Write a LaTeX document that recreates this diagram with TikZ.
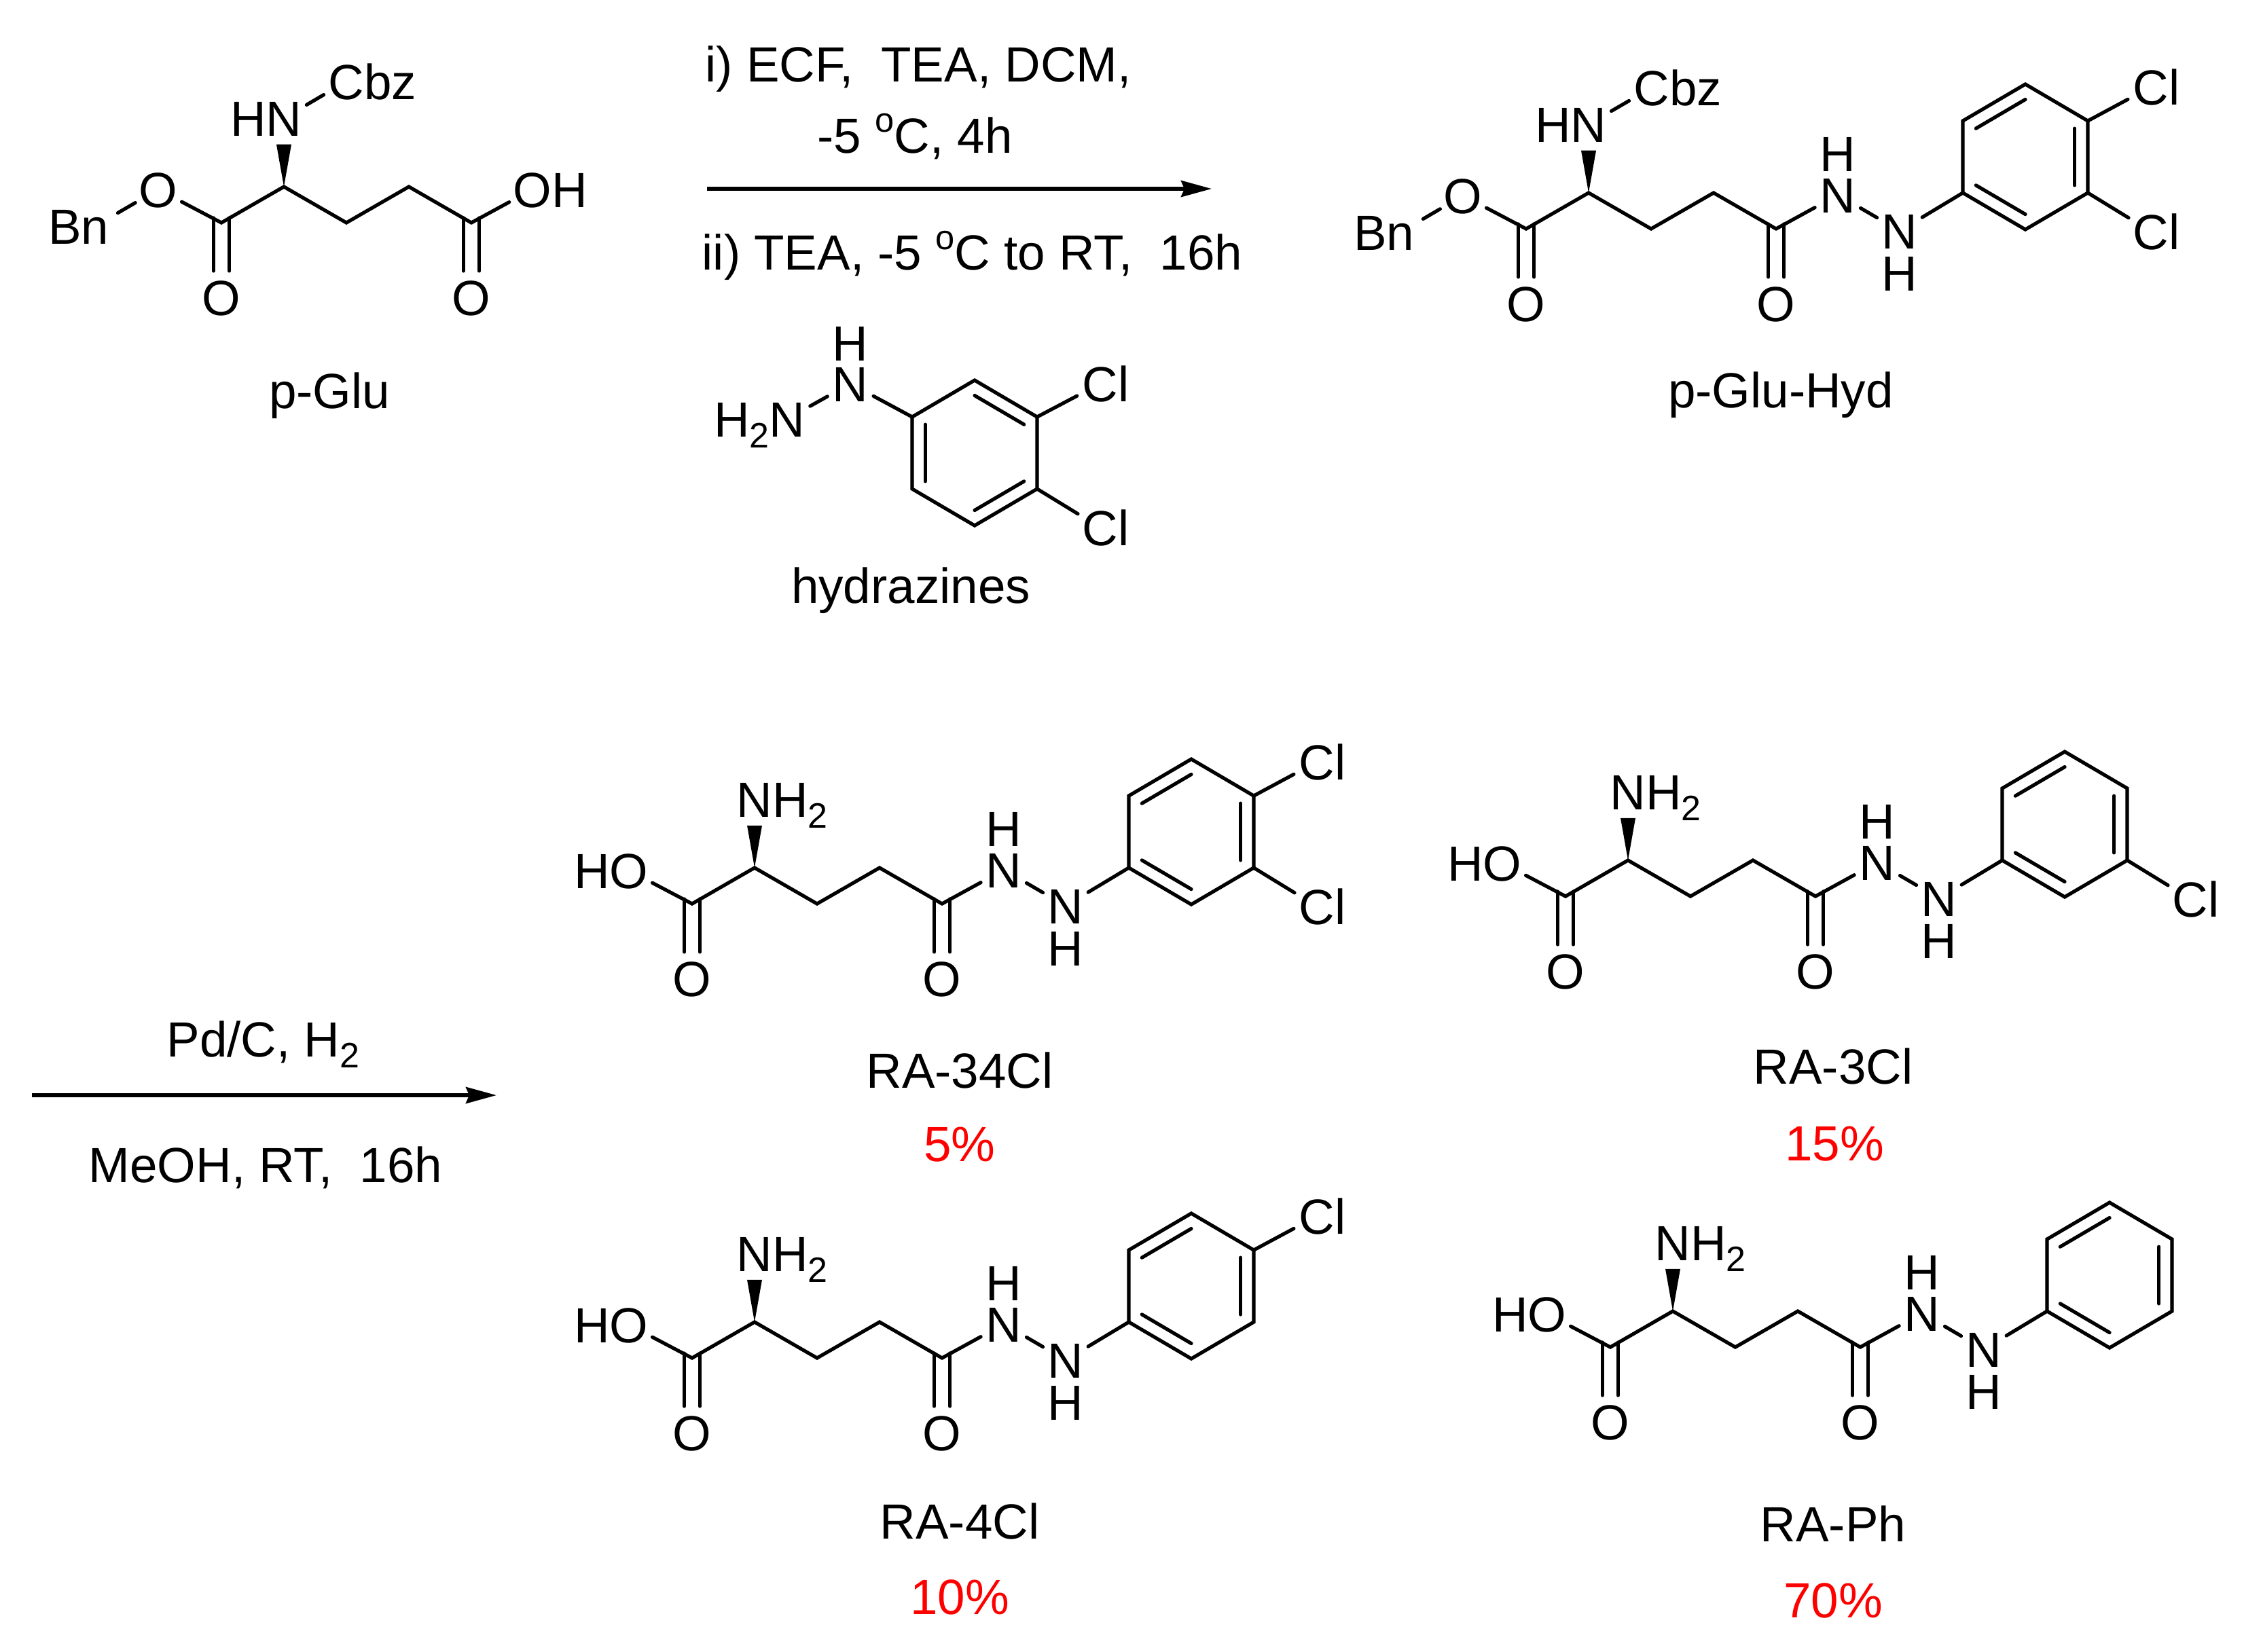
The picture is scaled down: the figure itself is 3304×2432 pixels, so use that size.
\documentclass[tikz,border=0pt]{standalone}
\usepackage{fontspec}
\setmainfont{Liberation Sans}
\usetikzlibrary{calc,arrows.meta}
\newcommand\subt{\raisebox{-0.16cm}{\fontsize{14.8}{16}\selectfont 2}}
\newcommand\supo{\raisebox{0.30cm}{\fontsize{14.4}{16}\selectfont o}}
\tikzset{
  chemfont/.style={font=\fontsize{20.7}{24}\selectfont},
  atom/.style={chemfont,circle,inner sep=0pt,minimum size=0.76cm,text height=0.52cm,text depth=0pt},
  txt/.style={chemfont,inner sep=0pt,anchor=base},
  txtl/.style={chemfont,inner sep=0pt,anchor=base west},
  yieldtxt/.style={txt,text=red},
  bond/.style={line width=0.052cm,line cap=round,line join=miter},
  rxn/.style={line width=0.054cm,-{Stealth[length=0.45cm,width=0.24cm,inset=0.05cm]}}
}
% chain: prefix, x, y (reference pixels, y down), text of ester O, text of N
\newcommand\glumol[5]{%
  \begin{scope}[shift={(#2,-#3)}]
    \coordinate (#1a) at (0,0);
    \coordinate (#1c1) at (-92,-53);
    \coordinate (#1c3) at (92,-53);
    \coordinate (#1c4) at (184,0);
    \coordinate (#1c5) at (276,-53);
    \node[atom] (#1oe) at (-185,-4) {#4};
    \node[atom] (#1o1) at (-92,-163) {O};
    \node[atom] (#1o5) at (276,-163) {O};
    \node[atom] (#1n) at (0,101) {#5};
    \draw[bond] (#1oe) -- (#1c1) -- (#1a) -- (#1c3) -- (#1c4) -- (#1c5);
    \draw[bond,transform canvas={xshift=-0.115cm},shorten <=-0.07cm] (#1c1) -- (#1o1);
    \draw[bond,transform canvas={xshift=0.115cm},shorten <=-0.07cm] (#1c1) -- (#1o1);
    \draw[bond,transform canvas={xshift=-0.115cm},shorten <=-0.07cm] (#1c5) -- (#1o5);
    \draw[bond,transform canvas={xshift=0.115cm},shorten <=-0.07cm] (#1c5) -- (#1o5);
    \fill (#1a) -- ($(#1n.south)+(11,0)$) -- ($(#1n.south)+(-11,0)$) -- cycle;
  \end{scope}}
% benzene ring: prefix, centre x, centre y (y up, current scope)
\newcommand\bzring[3]{%
  \coordinate (#1c) at (#2,#3);
  \coordinate (#11) at (#2-92,#3+53);
  \coordinate (#12) at (#2,#3+107);
  \coordinate (#13) at (#2+92,#3+53);
  \coordinate (#14) at (#2+92,#3-53);
  \coordinate (#15) at (#2,#3-107);
  \coordinate (#16) at (#2-92,#3-53);
  \draw[bond] (#11) -- (#12) -- (#13) -- (#14) -- (#15) -- (#16) -- cycle;}
\newcommand\innerbond[3]{\draw[bond] ($(#1#2)!.21!(#1c)$) -- ($(#1#3)!.21!(#1c)$);}
% hydrazide + phenyl: prefix, x, y
\newcommand\hydraz[3]{%
  \begin{scope}[shift={(#2,-#3)}]
    \node[atom] (#1n1) at (367,-3) {N};
    \node[atom] (#1h1) at (367,58) {H};
    \node[atom] (#1n2) at (458,-56) {N};
    \node[atom] (#1h2) at (458,-118) {H};
    \bzring{#1r}{643}{53}
    \innerbond{#1r}{1}{2}
    \innerbond{#1r}{3}{4}
    \innerbond{#1r}{5}{6}
    \draw[bond] (#1c5) -- (#1n1);
    \draw[bond] (#1n1) -- (#1n2);
    \draw[bond] (#1n2) -- (#1r6);
  \end{scope}}
\newcommand\clupper[1]{\node[atom] (#1clu) at ($(#1r3)+(93,50)$) {C\rlap{l}};
  \draw[bond] (#1r3) -- (#1clu);}
\newcommand\cllower[1]{\node[atom] (#1cll) at ($(#1r4)+(93,-57)$) {C\rlap{l}};
  \draw[bond] (#1r4) -- (#1cll);}
\begin{document}
\begin{tikzpicture}[x=0.01cm,y=0.01cm]
\fill[white] (0,0) rectangle (3304,-2432);
\useasboundingbox (0,0) rectangle (3304,-2432);

% p-Glu
\glumol{g}{418}{275}{O}{\llap{H}N}
\node[atom] (gn0) at (140,-333) {\llap{B}n};
\node[atom] (gcbz) at (510,-120) {C\rlap{bz}};
\node[atom] (goh) at (784,-279) {O\rlap{H}};
\draw[bond] (gn0) -- (goe);
\draw[bond] (gn) -- (gcbz);
\draw[bond] (gc5) -- (goh);
\node[txt] (lblg) at (485,-601) {p-Glu};

% reaction 1
\node[txtl] (r1a) at (1038,-120) {i) ECF,~~TEA, DCM,};
\node[txtl] (r1b) at (1203,-225) {-5 \supo C, 4h};
\node[txtl] (r1c) at (1033,-397) {ii) TEA, -5 \supo C to RT,~~16h};
\coordinate (a1s) at (1041,-278);
\coordinate (a1e) at (1784,-278);
\draw[rxn] (a1s) -- (a1e);

% hydrazine
\bzring{z}{1435}{-667}
\innerbond{z}{2}{3}
\innerbond{z}{4}{5}
\innerbond{z}{6}{1}
\node[atom] (zn1) at (1252,-565) {N};
\node[atom] (zh1) at (1252,-505) {H};
\node[atom] (zn2) at (1159,-617) {\llap{H\subt}N};
\node[atom] (zclu) at (1620,-565) {C\rlap{l}};
\node[atom] (zcll) at (1620,-777) {C\rlap{l}};
\draw[bond] (zn2) -- (zn1);
\draw[bond] (zn1) -- (z1);
\draw[bond] (z3) -- (zclu);
\draw[bond] (z4) -- (zcll);
\node[txt] (lblz) at (1341,-888) {hydrazines};

% p-Glu-Hyd
\glumol{p}{2339}{284}{O}{\llap{H}N}
\node[atom] (pn0) at (2062,-342) {\llap{B}n};
\node[atom] (pcbz) at (2432,-129) {C\rlap{bz}};
\draw[bond] (pn0) -- (poe);
\draw[bond] (pn) -- (pcbz);
\hydraz{p}{2339}{284}
\clupper{p}
\cllower{p}
\node[txt] (lblp) at (2622,-600) {p-Glu-Hyd};

% reaction 2
\coordinate (a2s) at (47,-1613);
\coordinate (a2e) at (731,-1613);
\draw[rxn] (a2s) -- (a2e);
\node[txtl] (r2a) at (245,-1556) {Pd/C, H\subt};
\node[txtl] (r2b) at (130,-1741) {MeOH, RT,~~16h};

% RA-34Cl
\glumol{a}{1111}{1278}{\llap{H}O}{N\rlap{H\subt}}
\hydraz{a}{1111}{1278}
\clupper{a}
\cllower{a}
\node[txt] (lbla) at (1413,-1602) {RA-34Cl};
\node[yieldtxt] (ya) at (1413,-1710) {5\%};

% RA-3Cl
\glumol{b}{2397}{1267}{\llap{H}O}{N\rlap{H\subt}}
\hydraz{b}{2397}{1267}
\cllower{b}
\node[txt] (lblb) at (2699,-1596) {RA-3Cl};
\node[yieldtxt] (yb) at (2701,-1709) {15\%};

% RA-4Cl
\glumol{c}{1111}{1947}{\llap{H}O}{N\rlap{H\subt}}
\hydraz{c}{1111}{1947}
\clupper{c}
\node[txt] (lblc) at (1413,-2266) {RA-4Cl};
\node[yieldtxt] (yc) at (1413,-2377) {10\%};

% RA-Ph
\glumol{d}{2463}{1931}{\llap{H}O}{N\rlap{H\subt}}
\hydraz{d}{2463}{1931}
\node[txt] (lbld) at (2699,-2270) {RA-Ph};
\node[yieldtxt] (yd) at (2699,-2382) {70\%};
\end{tikzpicture}
\end{document}
